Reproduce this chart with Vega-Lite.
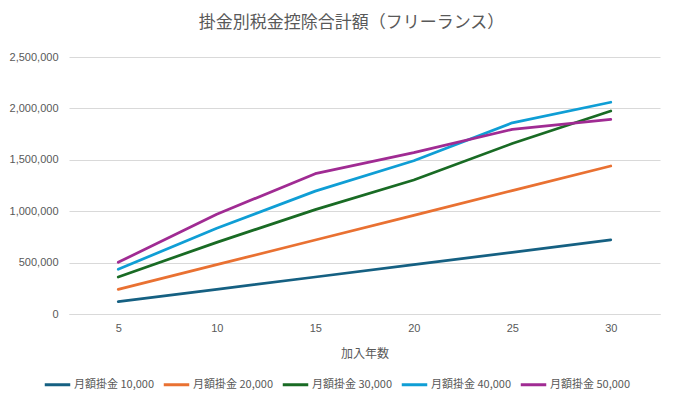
{
  "$schema": "https://vega.github.io/schema/vega-lite/v6.json",
  "autosize": {"type": "none"},
  "width": 591,
  "height": 257,
  "padding": {"left": 69, "top": 57, "right": 24, "bottom": 85},
  "background": "white",
  "title": {
    "text": "掛金別税金控除合計額（フリーランス）",
    "anchor": "middle",
    "frame": "group",
    "offset": 19,
    "dx": -13,
    "fontSize": 17,
    "fontWeight": "normal",
    "color": "#595959",
    "font": "Noto Sans CJK JP"
  },
  "data": {
    "values": [
      {"year": 5, "series": "月額掛金 10,000", "value": 120000},
      {"year": 10, "series": "月額掛金 10,000", "value": 240000},
      {"year": 15, "series": "月額掛金 10,000", "value": 360000},
      {"year": 20, "series": "月額掛金 10,000", "value": 480000},
      {"year": 25, "series": "月額掛金 10,000", "value": 600000},
      {"year": 30, "series": "月額掛金 10,000", "value": 720000},
      {"year": 5, "series": "月額掛金 20,000", "value": 240000},
      {"year": 10, "series": "月額掛金 20,000", "value": 480000},
      {"year": 15, "series": "月額掛金 20,000", "value": 720000},
      {"year": 20, "series": "月額掛金 20,000", "value": 960000},
      {"year": 25, "series": "月額掛金 20,000", "value": 1200000},
      {"year": 30, "series": "月額掛金 20,000", "value": 1440000},
      {"year": 5, "series": "月額掛金 30,000", "value": 360000},
      {"year": 10, "series": "月額掛金 30,000", "value": 697000},
      {"year": 15, "series": "月額掛金 30,000", "value": 1015000},
      {"year": 20, "series": "月額掛金 30,000", "value": 1303000},
      {"year": 25, "series": "月額掛金 30,000", "value": 1658000},
      {"year": 30, "series": "月額掛金 30,000", "value": 1975000},
      {"year": 5, "series": "月額掛金 40,000", "value": 435000},
      {"year": 10, "series": "月額掛金 40,000", "value": 834000},
      {"year": 15, "series": "月額掛金 40,000", "value": 1195000},
      {"year": 20, "series": "月額掛金 40,000", "value": 1491000},
      {"year": 25, "series": "月額掛金 40,000", "value": 1860000},
      {"year": 30, "series": "月額掛金 40,000", "value": 2060000},
      {"year": 5, "series": "月額掛金 50,000", "value": 503000},
      {"year": 10, "series": "月額掛金 50,000", "value": 970000},
      {"year": 15, "series": "月額掛金 50,000", "value": 1365000},
      {"year": 20, "series": "月額掛金 50,000", "value": 1569000},
      {"year": 25, "series": "月額掛金 50,000", "value": 1796000},
      {"year": 30, "series": "月額掛金 50,000", "value": 1894000}
    ]
  },
  "mark": {"type": "line", "strokeWidth": 2.75, "strokeCap": "round", "strokeJoin": "round"},
  "encoding": {
    "x": {
      "field": "year",
      "type": "ordinal",
      "scale": {"type": "point", "padding": 0.5},
      "axis": {
        "title": "加入年数",
        "titleFont": "Noto Sans CJK JP",
        "titleFontSize": 12,
        "titleFontWeight": "normal",
        "titleColor": "#595959",
        "titlePadding": 15,
        "labelAngle": 0,
        "labelFont": "Liberation Sans",
        "labelFontSize": 11,
        "labelColor": "#595959",
        "labelPadding": 8,
        "ticks": false,
        "domain": true,
        "domainColor": "#D9D9D9",
        "grid": false
      }
    },
    "y": {
      "field": "value",
      "type": "quantitative",
      "scale": {"domain": [0, 2500000]},
      "axis": {
        "title": null,
        "values": [0, 500000, 1000000, 1500000, 2000000, 2500000],
        "format": ",d",
        "labelFont": "Liberation Sans",
        "labelFontSize": 11,
        "labelColor": "#595959",
        "labelPadding": 11,
        "ticks": false,
        "domain": false,
        "grid": true,
        "gridColor": "#D9D9D9",
        "gridWidth": 1
      }
    },
    "color": {
      "field": "series",
      "type": "nominal",
      "scale": {
        "domain": ["月額掛金 10,000", "月額掛金 20,000", "月額掛金 30,000", "月額掛金 40,000", "月額掛金 50,000"],
        "range": ["#156082", "#E97132", "#196B24", "#0F9ED5", "#A02B93"]
      },
      "legend": {
        "title": null,
        "orient": "none",
        "direction": "horizontal",
        "legendX": -26,
        "legendY": 313,
        "symbolType": "stroke",
        "symbolSize": 650,
        "symbolStrokeWidth": 3,
        "labelFont": "Noto Sans CJK JP",
        "labelFontSize": 11,
        "labelColor": "#595959",
        "labelOffset": 2,
        "columnPadding": 2
      }
    }
  },
  "config": {"view": {"stroke": null}}
}
